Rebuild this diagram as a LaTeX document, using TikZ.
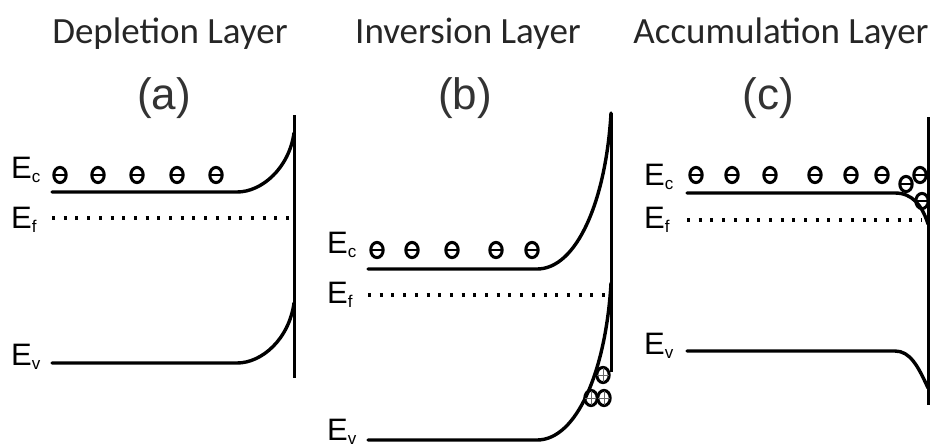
\documentclass[tikz,border=0pt]{standalone}
\usepackage{fontspec}
\setmainfont{Liberation Sans}
\newfontfamily\titlefont{Carlito}
\newcommand\lev[1]{{\fontsize{31}{31}\selectfont E}\raisebox{-4pt}{\fontsize{17}{17}\selectfont #1}}
\tikzset{
  band/.style={line width=3.4pt, line cap=round},
  fermi/.style={line width=3.4pt, dash pattern=on 3pt off 8.7pt},
  wall/.style={line width=3pt},
  ttl/.style={inner sep=0pt, font=\titlefont\fontsize{37}{37}\selectfont, text=black!85},
  plab/.style={inner sep=0pt, font=\fontsize{44}{44}\selectfont, text=black!80},
  lbl/.style={inner sep=0pt, anchor=base west},
  elec/.pic={\draw[line width=3pt] (0,0) ellipse [x radius=6.2pt, y radius=7.6pt];
             \draw[line width=2.6pt] (-6.2pt,0) -- (6.2pt,0);},
  hole/.pic={\draw[line width=3pt] (0,0) ellipse [x radius=6.2pt, y radius=7.6pt];
             \draw[line width=1pt, black!60] (-6pt,0) -- (6pt,0) (0,-7pt) -- (0,7pt);}
}
\begin{document}
\begin{tikzpicture}[x=1pt,y=-1pt]
\useasboundingbox (0,0) rectangle (937,445);
% titles
\node[ttl, anchor=base] (ta) at (170,43) {Depletion Layer};
\node[ttl, anchor=base] (tb) at (468,43) {Inversion Layer};
\node[ttl, anchor=base] (tc) at (781,43) {Accumulation Layer};
\node[plab, anchor=base] (la) at (164,109) {(a)};
\node[plab, anchor=base] (lb) at (465,109) {(b)};
\node[plab, anchor=base] (lc) at (768,109) {(c)};

% ---------- panel (a)
\node[lbl] (aEc) at (11,178) {\lev{c}};
\node[lbl] (aEf) at (11,228) {\lev{f}};
\node[lbl] (aEv) at (11,365) {\lev{v}};
\coordinate (aWt) at (294,115); \coordinate (aWb) at (294,378);
\draw[wall] (aWt) -- (aWb);
\draw[band] (52,192) -- (237,192) .. controls (262,192) and (289,168) .. (294,133);
\draw[fermi] (52,218) -- (294,218);
\draw[band] (52,363) -- (237,363) .. controls (262,363) and (289,339) .. (294,303);
\foreach \x in {60,98,137,177,216} \pic at (\x,175) {elec};

% ---------- panel (b)
\node[lbl] (bEc) at (327,253) {\lev{c}};
\node[lbl] (bEf) at (327,303) {\lev{f}};
\node[lbl] (bEv) at (327,440) {\lev{v}};
\coordinate (bWt) at (611,113); \coordinate (bWb) at (611,372);
\draw[wall] (bWt) -- (bWb);
\draw[band] (368,269) -- (537,269) .. controls (577,269) and (606,200) .. (611,113);
\draw[fermi] (368,295) -- (606,295);
\draw[band] (368,440) -- (537,440) .. controls (577,440) and (606,370) .. (611,283);
\foreach \x in {377,412,452,496,532} \pic at (\x,250) {elec};
\pic at (603,375) {hole};
\pic at (591,398) {hole};
\pic at (604,398) {hole};

% ---------- panel (c)
\node[lbl] (cEc) at (644,185) {\lev{c}};
\node[lbl] (cEf) at (644,228) {\lev{f}};
\node[lbl] (cEv) at (644,354) {\lev{v}};
\coordinate (cWt) at (928,117); \coordinate (cWb) at (928,405);
\draw[wall] (cWt) -- (cWb);
\draw[band] (687,193) -- (895,193) .. controls (912,193) and (922,205) .. (928,224);
\draw[fermi] (687,220) -- (922,220);
\draw[band] (687,351) -- (895,351) .. controls (910,351) and (918,366) .. (928,388);
\foreach \x in {696,732,770,815,851,882} \pic at (\x,175) {elec};
\pic at (906,184) {elec};
\pic at (920,175) {elec};
\pic at (922,201) {elec};
\end{tikzpicture}
\end{document}
